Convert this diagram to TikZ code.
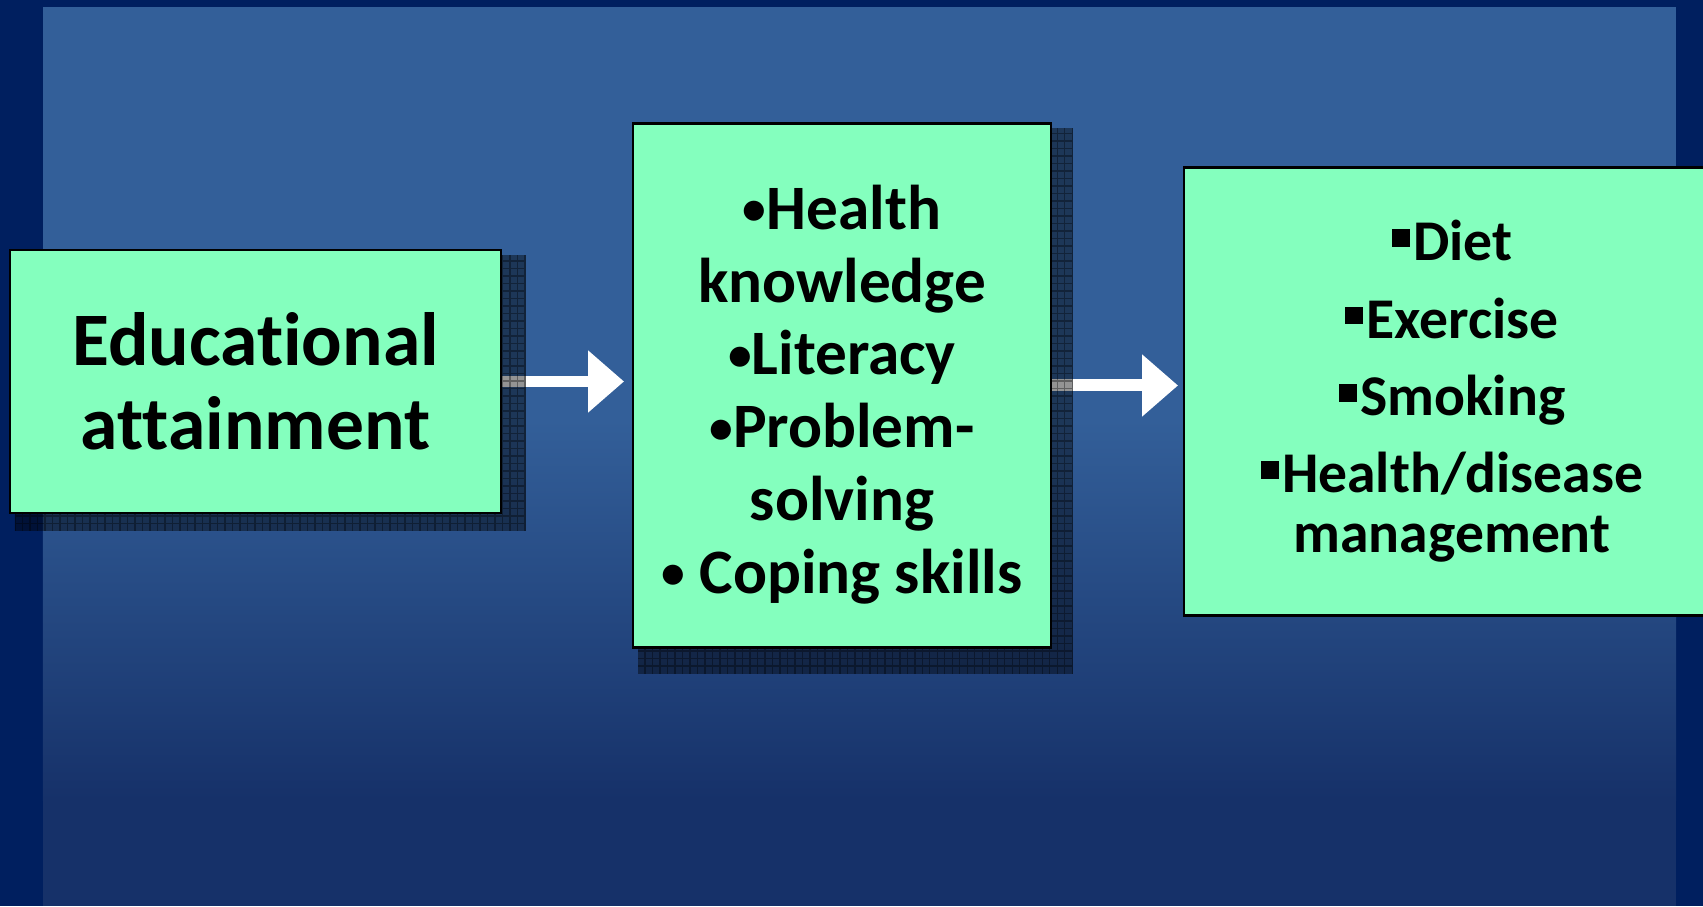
\documentclass[tikz,border=0pt]{standalone}
\usepackage{graphicx}
\usepackage{fontspec}
\setmainfont{Carlito}[Ligatures=NoCommon]
\usetikzlibrary{positioning, arrows.meta}
\definecolor{navy}{RGB}{0,31,95}
\definecolor{paneltop}{RGB}{51,95,153}
\definecolor{panelbottom}{RGB}{22,49,105}
\definecolor{mint}{RGB}{132,255,190}
\pgfdeclarelayer{background}
\pgfdeclarelayer{arrowlayer}
\pgfdeclarelayer{shadowlayer}
\pgfsetlayers{background,arrowlayer,shadowlayer,main}
\newcommand{\sqbullet}{\raisebox{0.24em}{\rule{0.31em}{0.31em}}\hspace{0.06em}}
\newcommand{\roundbullet}{\raisebox{0.07em}{\scalebox{0.75}{\textbullet}}}

\begin{document}
\begin{tikzpicture}[
    box/.style={rectangle, draw=black, line width=0.7pt, fill=mint, outer sep=0pt, inner sep=0pt, align=center},
    boxshadow/.style={fill=black, fill opacity=0.42},
    blockarrow/.style={draw=white, line width=0.11cm, -{Triangle[width=0.6cm, length=0.36cm]}}
]
    \useasboundingbox (0,0) rectangle (17.03,9.06);
    \clip (0,0) rectangle (17.03,9.06);
    % Boxes
    \node[box, minimum width=4.91cm, minimum height=2.63cm, font=\bfseries\fontsize{21.5}{24}\selectfont] (edu) at (2.555,5.245) {Educational\\attainment};
    \node[box, minimum width=4.18cm, minimum height=5.24cm, font=\bfseries\fontsize{18}{20.7}\selectfont, right=1.32cm of edu, yshift=-0.04cm] (skills) {\rule{0pt}{0.62cm}\roundbullet Health\\knowledge\\\roundbullet Literacy\\\roundbullet Problem-\\solving\\\roundbullet{} Coping skills};
    \node[box, minimum width=5.36cm, minimum height=4.48cm, font=\bfseries\fontsize{16.4}{17}\selectfont, right=1.33cm of skills, yshift=-0.06cm] (behav) {\sqbullet Diet\\[5pt]\sqbullet Exercise\\[5pt]\sqbullet Smoking\\[5pt]\sqbullet Health/disease\\management};
    % Slide background
    \begin{pgfonlayer}{background}
        \fill[navy] (0,0) rectangle (17.03,9.06);
        \fill[paneltop] (0.43,4.86) rectangle (16.76,8.99);
        \shade[top color=paneltop, bottom color=panelbottom] (0.43,1.06) rectangle (16.76,4.86);
        \fill[panelbottom] (0.43,0) rectangle (16.76,1.06);
    \end{pgfonlayer}
    % Arrows between boxes
    \begin{pgfonlayer}{arrowlayer}
        \draw[blockarrow, shorten >=0.09cm] (edu.east) -- (edu.east -| skills.west);
        \draw[blockarrow, line width=0.12cm, shorten >=0.06cm] (skills.east) -- (skills.east -| behav.west);
    \end{pgfonlayer}
    % Shadows
    \begin{pgfonlayer}{shadowlayer}
        \foreach \b/\sx/\sy in {edu/0.25/0.18, skills/0.22/0.26} {
            \begin{scope}
                \clip ([shift={(0.05,-0.05)}]\b.north west) rectangle ([shift={(\sx,-\sy)}]\b.south east);
                \fill[boxshadow] ([shift={(0.05,-0.05)}]\b.north west) rectangle ([shift={(\sx,-\sy)}]\b.south east);
                \draw[black, line width=0.3pt, opacity=0.35, step=0.075cm] ([shift={(0.05,-0.05)}]\b.north west) grid ([shift={(\sx,-\sy)}]\b.south east);
            \end{scope}
        }
    \end{pgfonlayer}
\end{tikzpicture}
\end{document}
